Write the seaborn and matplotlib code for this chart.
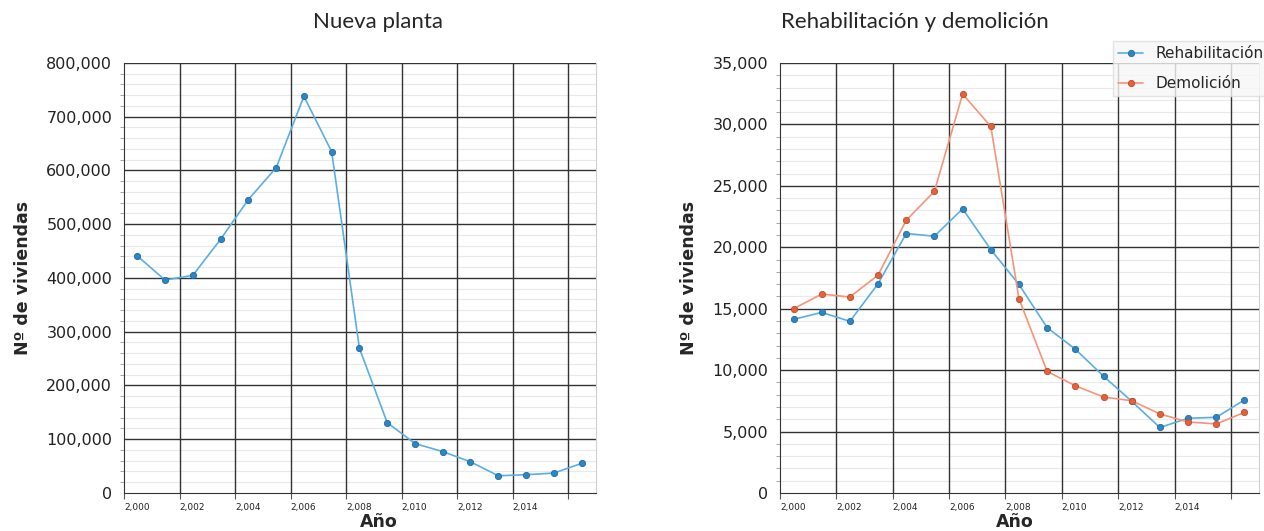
'''
script to plot viviendas iniciadas: nueva planta vs rehabilitacion/demolicion
'''
import matplotlib
matplotlib.use('Agg')
import numpy as np
import pandas as pd
import seaborn as sns
import matplotlib.pyplot as plt
from matplotlib.ticker import MultipleLocator, FuncFormatter

# data (points sit at mid-year)
anios = np.arange(2000, 2017)
nueva_planta = [441000, 396000, 405000, 472000, 546000, 605000, 738000, 635000,
                269000, 131000, 92000, 77000, 58000, 32000, 34000, 37000, 55000]
rehabilitacion = [14130, 14700, 13970, 17030, 21120, 20900, 23130, 19810,
                  16970, 13460, 11700, 9510, 7460, 5330, 6080, 6160, 7570]
demolicion = [15000, 16190, 15950, 17740, 22200, 24560, 32470, 29830,
              15810, 9890, 8730, 7810, 7510, 6430, 5780, 5620, 6560]
x_ticks = list(range(2000, 2017, 2))
x_ticklabels = ['2,000', '2,002', '2,004', '2,006', '2,008', '2,010', '2,012', '2,014', '']

AZUL_LINEA, AZUL_PUNTO = '#5aaee3', '#2b86c6'
NARANJA_LINEA, NARANJA_PUNTO = '#f59478', '#e5613a'
NARROW = ['DejaVu Sans Condensed', 'DejaVu Sans']


def estilo_ejes(ax, ymax, ymajor):
    ax.set_xlim(2000, 2017)
    ax.set_ylim(0, ymax)
    ax.set_xticks(x_ticks)
    ax.set_xticklabels(x_ticklabels, fontsize=6.5, ha='left', color='#222222')
    ax.yaxis.set_major_locator(MultipleLocator(ymajor))
    ax.yaxis.set_minor_locator(MultipleLocator(ymajor / 5))
    ax.yaxis.set_major_formatter(FuncFormatter(lambda v, p: '{:,.0f}'.format(v)))
    ax.tick_params(axis='y', which='major', labelsize=11.5, length=5, color='#555555', labelcolor='#222222')
    ax.tick_params(axis='y', which='minor', length=3, color='#999999', left=True)
    ax.tick_params(axis='x', which='major', length=4, color='#555555', pad=3, bottom=True)
    # light minor grid underneath, dark major grid on top of it
    ax.grid(False)
    ax.grid(which='minor', axis='y', color='#e9e9e9', linewidth=0.8)
    ax.set_axisbelow(True)
    for xv in x_ticks[1:]:
        ax.axvline(xv, color='#333333', linewidth=1.0, zorder=1)
    for yv in np.arange(ymajor, ymax + 1, ymajor):
        ax.axhline(yv, color='#333333', linewidth=1.0, zorder=1)
    for side in ['left', 'bottom']:
        ax.spines[side].set_color('#333333')
    ax.spines['top'].set_visible(False)
    ax.spines['right'].set_color('#d0d0d0')
    ax.set_xlabel('Año', fontsize=12.5, fontweight='bold')
    ax.set_ylabel('Nº de viviendas', family=NARROW, fontsize=12.5, fontweight='bold', labelpad=10)


def main():
    sns.set_style('white')
    plt.rcParams['font.family'] = ['DejaVu Sans']
    x = anios + 0.48

    fig = plt.figure(figsize=(12.64, 5.31), dpi=100)
    ax1 = fig.add_axes([0.0981, 0.0716, 0.3734, 0.8098])
    ax2 = fig.add_axes([0.6171, 0.0716, 0.379, 0.8098])

    df1 = pd.DataFrame({'anio': x, 'viviendas': nueva_planta})
    sns.lineplot(data=df1, x='anio', y='viviendas', ax=ax1, color=AZUL_LINEA, linewidth=1.2,
                 marker='o', markersize=4.5, markerfacecolor=AZUL_PUNTO, markeredgecolor='#1f6aa3',
                 markeredgewidth=0.6, zorder=3)
    estilo_ejes(ax1, 800000, 100000)
    ax1.xaxis.set_label_coords(0.54, -0.047)

    df2 = pd.DataFrame({'anio': x, 'Rehabilitación': rehabilitacion, 'Demolición': demolicion})
    sns.lineplot(data=df2, x='anio', y='Rehabilitación', ax=ax2, color=AZUL_LINEA, linewidth=1.2,
                 marker='o', markersize=4.5, markerfacecolor=AZUL_PUNTO, markeredgecolor='#1f6aa3',
                 markeredgewidth=0.6, label='Rehabilitación', zorder=3)
    sns.lineplot(data=df2, x='anio', y='Demolición', ax=ax2, color=NARANJA_LINEA, linewidth=1.2,
                 marker='o', markersize=4.5, markerfacecolor=NARANJA_PUNTO, markeredgecolor='#c24a26',
                 markeredgewidth=0.6, label='Demolición', zorder=3)
    estilo_ejes(ax2, 35000, 5000)
    ax2.xaxis.set_label_coords(0.49, -0.047)

    leg = ax2.legend(loc='upper left', bbox_to_anchor=(1113 / 1264, 1 - 41 / 531),
                     bbox_transform=fig.transFigure, fontsize=11, frameon=True, fancybox=False,
                     handlelength=1.6, borderpad=0.35, labelspacing=0.95, borderaxespad=0)
    leg.get_frame().set_facecolor('#f7f7f7')
    leg.get_frame().set_edgecolor('#dddddd')
    leg.set_zorder(5)

    fig.text(378 / 1264, 1 - 22 / 531, 'Nueva planta', ha='center', va='center',
             family=['Lato', 'DejaVu Sans'], fontsize=16)
    fig.text(915 / 1264, 1 - 22 / 531, 'Rehabilitación y demolición', ha='center', va='center',
             family=['Lato', 'DejaVu Sans'], fontsize=16)

    fig.savefig('out.png', dpi=100)


if __name__ == "__main__":
    main()
